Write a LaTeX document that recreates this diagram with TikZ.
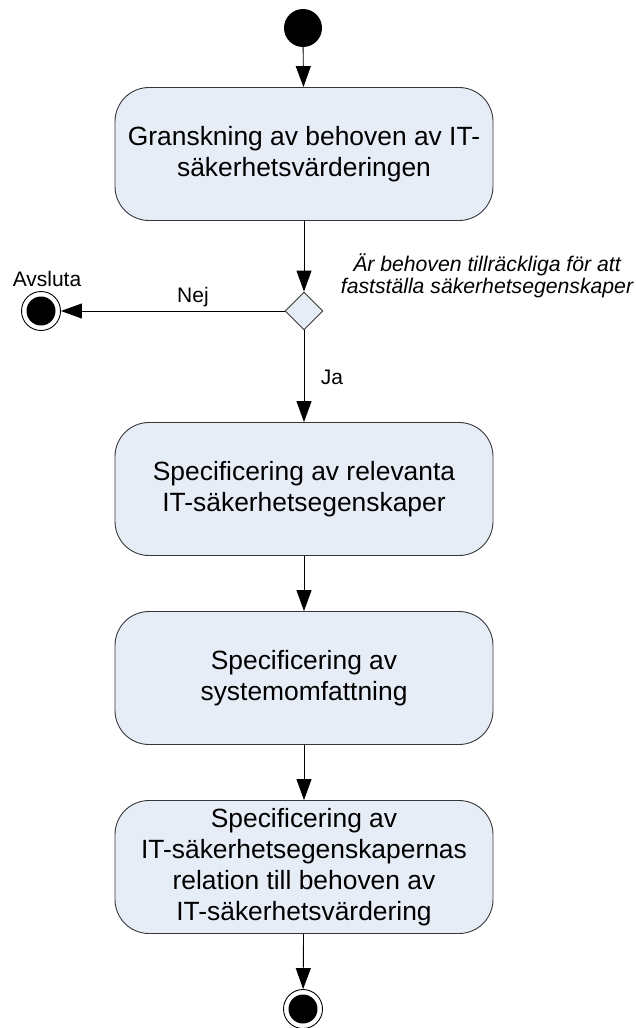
\documentclass[tikz,border=0pt]{standalone}
\usepackage{fontspec}
\setmainfont{Liberation Sans}
\usetikzlibrary{shapes.geometric,arrows.meta}

\definecolor{actfill}{RGB}{231,237,247}
\definecolor{actline}{RGB}{55,55,55}

\tikzset{
  activity/.style={draw=actline, line width=0.9pt, fill=actfill, rounded corners=34pt,
    minimum width=378pt, minimum height=133pt, inner sep=0pt, align=center,
    font=\fontsize{26.4}{31}\selectfont},
  decision/.style={diamond, draw=actline, line width=0.9pt, fill=actfill,
    minimum width=38pt, minimum height=38pt, inner sep=0pt},
  initial/.style={circle, fill=black, minimum size=38pt, inner sep=0pt},
  finalring/.style={circle, draw=black, line width=0.9pt, fill=white, minimum size=39pt, inner sep=0pt},
  finaldot/.style={circle, fill=black, minimum size=29pt, inner sep=0pt},
  flow/.style={draw=black, line width=0.9pt, -{Triangle[length=21pt,width=15pt]}},
  lbl/.style={font=\fontsize{21}{24}\selectfont, inner sep=0pt},
  guard/.style={font=\itshape\fontsize{21.2}{22}\selectfont, align=center, inner sep=0pt}
}

\begin{document}
\begin{tikzpicture}[x=1pt, y=-1pt]
  \useasboundingbox (0,0) rectangle (636,1028);

  % initial node
  \node[initial] (start) at (303,28) {};

  % activities
  \node[activity] (a1) at (304,154) {Granskning av behoven av IT-\\säkerhetsvärderingen};
  \node[decision] (dec) at (304,311) {};
  \node[activity] (a2) at (304,489) {Specificering av relevanta\\IT-säkerhetsegenskaper};
  \node[activity] (a3) at (304,678) {Specificering av\\systemomfattning};
  \node[activity] (a4) at (304,867) {Specificering av\\IT-säkerhetsegenskapernas\\relation till behoven av\\IT-säkerhetsvärdering};

  % final nodes
  \node[finalring] (abort) at (41,311) {};
  \node[finaldot] (abortdot) at (41,311) {};
  \node[finalring] (stop) at (303,1009) {};
  \node[finaldot] (stopdot) at (303,1009) {};

  % labels
  \node[lbl] (abortlbl) at (47,279) {Avsluta};
  \node[lbl] (nej) at (193,297) {Nej};
  \node[lbl] (ja) at (332,377) {Ja};
  \node[guard] (question) at (487,276) {Är behoven tillräckliga för att\\fastställa säkerhetsegenskaper};

  % control flow
  \draw[flow] (start) -- (a1);
  \draw[flow] (a1) -- (dec);
  \draw[flow] (dec) -- (abort);
  \draw[flow] (dec) -- (a2);
  \draw[flow] (a2) -- (a3);
  \draw[flow] (a3) -- (a4);
  \draw[flow] (a4) -- (stop);
\end{tikzpicture}
\end{document}
